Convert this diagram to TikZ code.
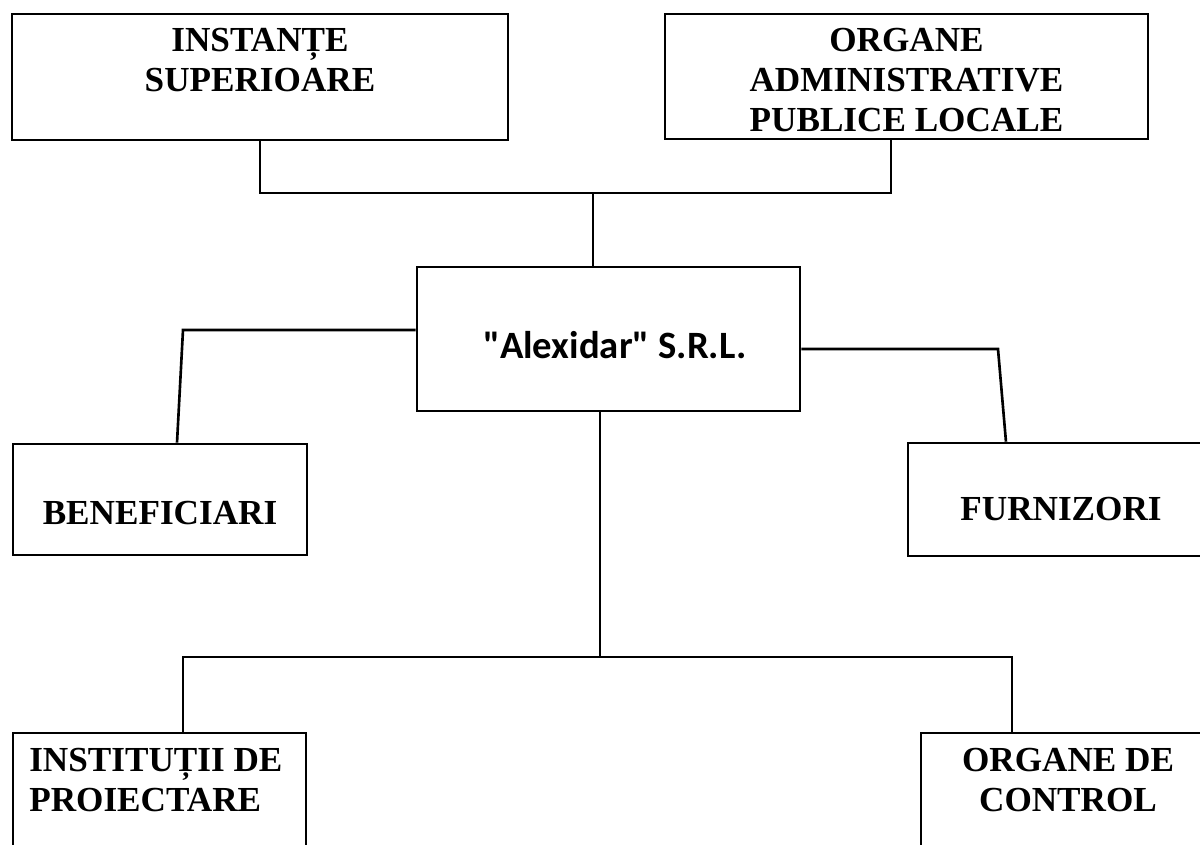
\documentclass[tikz,border=0pt]{standalone}
\usepackage{fontspec}
\setmainfont{Liberation Serif}
\newfontfamily\carlito{Carlito}

\begin{document}
\begin{tikzpicture}[x=.01cm,y=-.01cm,line width=.75pt,
  box/.style={draw,rectangle,inner sep=0pt},
  lbl/.style={inner sep=0pt,align=center,font=\fontsize{10}{11.4}\selectfont\bfseries}]
\useasboundingbox (0,0) rectangle (1200,844);
\clip (0,0) rectangle (1200,844);
% boxes
\node[box,minimum width=4.96cm,minimum height=1.26cm] (sup) at (260,77) {};
\node[box,minimum width=4.83cm,minimum height=1.25cm] (adm) at (906.5,76.5) {};
\node[box,minimum width=3.83cm,minimum height=1.44cm] (firm) at (608.5,339) {};
\node[box,minimum width=2.94cm,minimum height=1.11cm] (ben) at (160,499.5) {};
\node[box,minimum width=3.06cm,minimum height=1.13cm] (furn) at (1061,499.5) {};
\node[box,minimum width=2.93cm,minimum height=1.67cm] (inst) at (159.5,816.5) {};
\node[box,minimum width=2.94cm,minimum height=1.67cm] (ctrl) at (1068,816.5) {};
% texts
\node[lbl,anchor=north] (sup-t) at (260,27) {INSTANȚE\\SUPERIOARE};
\node[lbl,anchor=north] (adm-t) at (906.5,27) {ORGANE\\ADMINISTRATIVE\\PUBLICE LOCALE};
\node[inner sep=0pt,anchor=north,font=\carlito\fontsize{11}{13}\selectfont\bfseries] (firm-t) at (615,330) {"Alexidar" S.R.L.};
\node[lbl,anchor=north] (ben-t) at (160,500) {BENEFICIARI};
\node[lbl,anchor=north] (furn-t) at (1061,496) {FURNIZORI};
\node[lbl,anchor=north west,align=left] (inst-t) at (28,747) {INSTITUȚII DE\\PROIECTARE};
\node[lbl,anchor=north] (ctrl-t) at (1068,747) {ORGANE DE\\CONTROL};
% connectors
\coordinate (jt) at (593,193);
\coordinate (jl) at (183,330);
\coordinate (jr) at (998,349);
\coordinate (jb) at (600,657);
\draw (sup.south) |- (jt) -| ([xshift=-.155cm]adm.south);
\draw (jt) -- (jt |- firm.north);
\draw (firm.west |- jl) -- (jl) -- ([xshift=.17cm]ben.north);
\draw (firm.east |- jr) -- (jr) -- ([xshift=-.55cm]furn.north);
\draw (firm.south -| jb) -- (jb);
\draw ([xshift=.235cm]inst.north) |- (jb) -| ([xshift=-.56cm]ctrl.north);
\end{tikzpicture}
\end{document}
